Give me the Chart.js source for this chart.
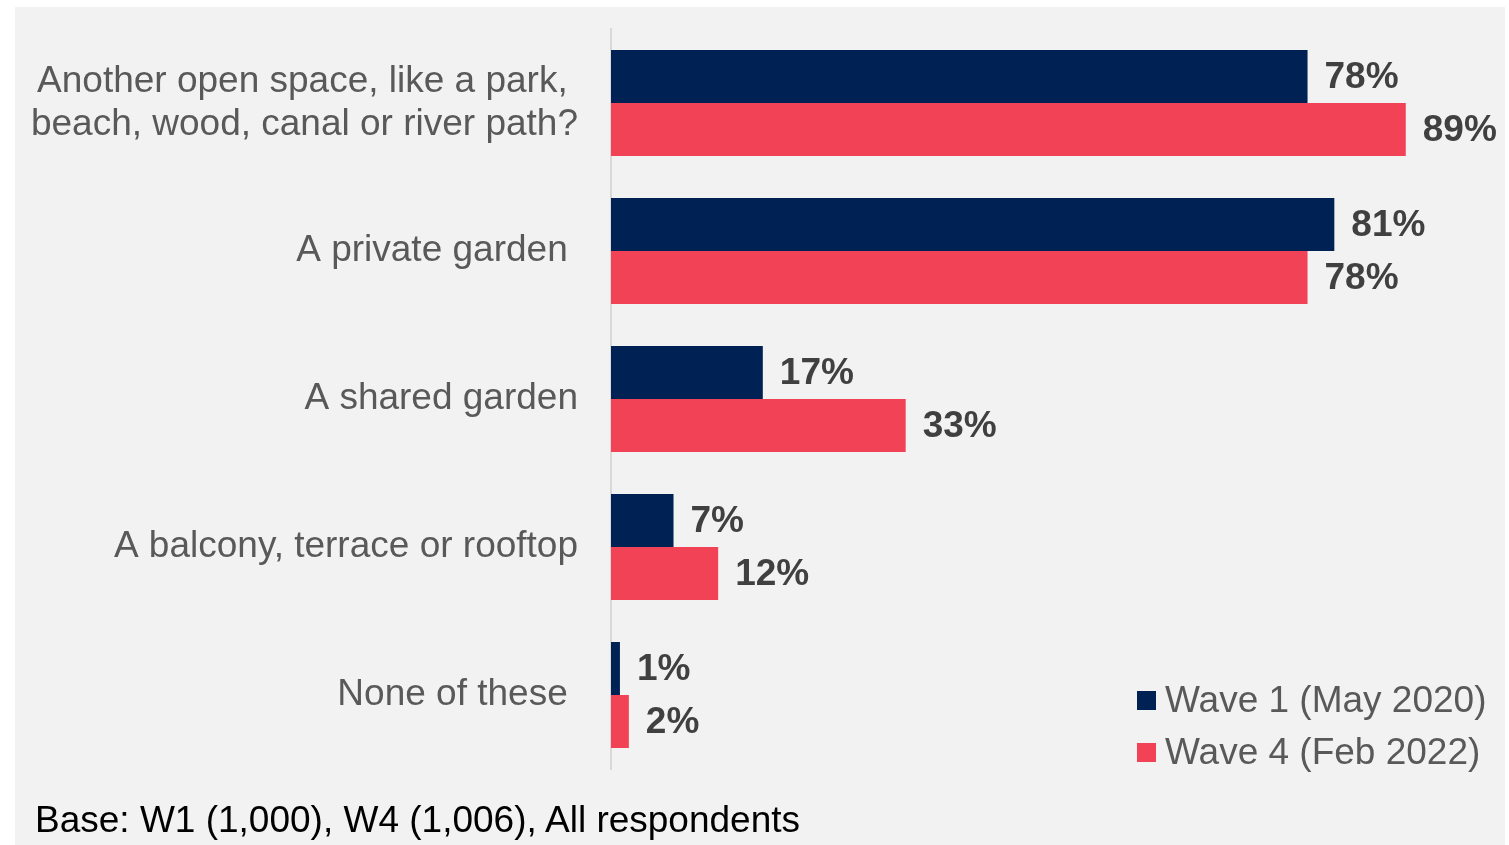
<!DOCTYPE html>
<html>
<head>
<meta charset="utf-8">
<script src="https://cdn.jsdelivr.net/npm/chart.js@4/dist/chart.umd.min.js"></script>
<style>
  html, body { margin: 0; padding: 0; background: #ffffff; }
  #panel { position: absolute; left: 15px; top: 7px; width: 1490px; height: 838px; background: #f2f2f2; }
  #chart { position: absolute; left: 0; top: 0; }
  #base { position: absolute; left: 20px; top: 792px; font-family: "Liberation Sans", Arial, sans-serif;
          font-size: 37px; color: #000000; white-space: nowrap; line-height: 42px; }
</style>
</head>
<body>
<div id="panel">
  <canvas id="chart" width="1490" height="838"></canvas>
  <div id="base">Base: W1 (1,000), W4 (1,006), All respondents</div>
</div>
<script>
// Outdoor spaces used, by survey wave (percent of respondents)
const categories = [
  ["Another open space, like a park, ", "beach, wood, canal or river path?"],
  "A private garden ",
  "A shared garden",
  "A balcony, terrace or rooftop",
  "None of these "
];
const wave1Label = "Wave 1 (May 2020)";
const wave4Label = "Wave 4 (Feb 2022)";
const wave1Values = [78, 81, 17, 7, 1];
const wave4Values = [89, 78, 33, 12, 2];

const NAVY = "#002153";
const RED = "#F14355";
const FONT = '"Liberation Sans", Arial, sans-serif';

// Bold percentage labels at the end of each bar
const valueLabels = {
  id: "valueLabels",
  afterDatasetsDraw(chart) {
    const ctx = chart.ctx;
    ctx.save();
    ctx.font = "bold 37px " + FONT;
    ctx.fillStyle = "#404040";
    ctx.textAlign = "left";
    ctx.textBaseline = "middle";
    chart.data.datasets.forEach((ds, di) => {
      chart.getDatasetMeta(di).data.forEach((bar, i) => {
        ctx.fillText(ds.data[i] + "%", bar.x + 17, bar.y + 1);
      });
    });
    ctx.restore();
  }
};

// Legend block in the lower right corner
const cornerLegend = {
  id: "cornerLegend",
  afterDraw(chart) {
    const ctx = chart.ctx;
    ctx.save();
    ctx.font = "37px " + FONT;
    ctx.textAlign = "left";
    ctx.textBaseline = "middle";
    chart.data.datasets.forEach((ds, di) => {
      const y = 694 + di * 52;
      ctx.fillStyle = ds.backgroundColor;
      ctx.fillRect(1122, y - 10, 19, 19);
      ctx.fillStyle = "#595959";
      ctx.fillText(ds.label, 1150, y + 1);
    });
    ctx.restore();
  }
};

new Chart(document.getElementById("chart"), {
  type: "bar",
  data: {
    labels: categories,
    datasets: [
      { label: wave1Label, data: wave1Values, backgroundColor: NAVY },
      { label: wave4Label, data: wave4Values, backgroundColor: RED }
    ]
  },
  options: {
    indexAxis: "y",
    responsive: false,
    devicePixelRatio: 1,
    animation: false,
    layout: { padding: { left: 0, right: 1, top: 22, bottom: 76 } },
    datasets: { bar: { categoryPercentage: 0.716, barPercentage: 1.0 } },
    scales: {
      x: { display: false, min: 0, max: 100 },
      y: {
        grid: { display: false },
        border: { display: true, color: "#d9d9d9", width: 2 },
        ticks: {
          padding: 25,
          color: "#595959",
          font: { family: FONT, size: 37, lineHeight: 1.17 }
        },
        afterFit(scale) {
          scale.width = 596;
          scale.paddingTop = 0;
          scale.paddingBottom = 0;
        }
      }
    },
    plugins: {
      legend: { display: false },
      tooltip: { enabled: false }
    }
  },
  plugins: [valueLabels, cornerLegend]
});
</script>
</body>
</html>
